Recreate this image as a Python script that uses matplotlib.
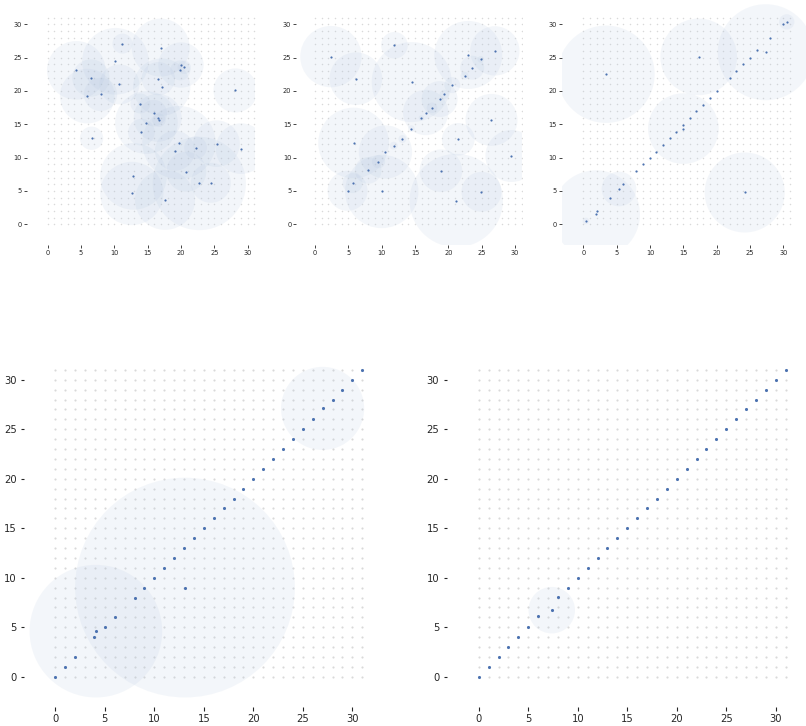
import numpy as np
import matplotlib
matplotlib.use("Agg")
import matplotlib.pyplot as plt
from matplotlib.patches import Circle

W, H = 806, 726

# centres and radii found at each stage
s1_x = [4.29, 6.48, 5.93, 7.92, 10.76, 10.16, 11.21, 6.58, 16.94, 16.59, 17.09, 13.90,
        15.89, 16.49, 16.69, 14.80, 14.05, 19.98, 19.88, 20.48, 28.15, 19.68, 19.08, 22.17,
        25.31, 28.99, 20.78, 22.72, 24.46, 12.85, 12.61, 17.59]
s1_y = [23.08, 21.93, 19.22, 19.47, 20.97, 24.44, 27.09, 12.90, 26.49, 21.83, 20.57, 18.11,
        16.66, 15.96, 15.60, 15.25, 13.80, 23.88, 23.08, 23.53, 20.07, 12.24, 11.04, 11.49,
        12.09, 11.34, 7.88, 6.12, 6.22, 7.18, 4.62, 3.66]
s1_r = [4.4, 2.8, 4.1, 2.5, 3.0, 5.0, 1.5, 1.75, 4.35, 2.5, 4.3, 1.5,
        2.0, 3.6, 1.0, 4.7, 2.0, 3.4, 1.5, 1.0, 3.3, 5.5, 3.0, 1.7,
        3.5, 3.8, 3.0, 7.0, 3.0, 5.0, 4.75, 4.5]

s2_x = [2.39, 6.13, 11.91, 14.50, 20.58, 22.98, 23.57, 22.42, 24.86, 26.96, 19.38, 18.68,
        17.54, 16.59, 15.94, 14.45, 26.46, 21.48, 13.10, 11.81, 10.56, 9.52, 7.97, 5.78,
        5.63, 4.88, 10.01, 18.88, 21.18, 24.96, 29.45]
s2_y = [25.14, 21.83, 26.84, 21.32, 20.87, 25.39, 23.48, 22.28, 24.74, 26.00, 19.47, 18.77,
        17.46, 16.76, 15.96, 14.35, 15.65, 12.74, 12.79, 11.79, 10.84, 9.38, 8.08, 12.19,
        6.17, 5.02, 4.92, 8.03, 3.56, 4.87, 10.24]
s2_r = [4.6, 3.95, 2.0, 6.0, 1.2, 5.1, 1.8, 0.6, 0.5, 3.7, 0.7, 2.7,
        0.8, 3.4, 0.4, 0.5, 3.9, 2.45, 0.6, 0.6, 4.0, 1.0, 2.0, 5.3,
        1.5, 3.0, 5.5, 3.2, 7.0, 3.0, 3.9]

s3_x = [0.4, 1.9, 2.0, 3.95, 5.35, 5.95, 7.95, 8.95, 9.95, 10.95, 11.95, 12.95, 13.95,
        14.95, 15.0, 15.95, 16.95, 18.0, 18.95, 20.0, 21.95, 22.95, 23.95, 25.0, 26.0,
        27.35, 28.0, 30.0, 30.5, 3.4, 17.3, 24.2]
s3_y = [0.5, 1.5, 2.0, 3.9, 5.3, 6.0, 8.0, 9.0, 10.0, 10.9, 11.9, 12.9, 13.9,
        14.95, 14.35, 15.95, 16.95, 17.95, 18.95, 19.97, 21.9, 23.0, 24.0, 25.0, 26.1,
        25.8, 27.9, 30.0, 30.35, 22.5, 25.1, 4.77]
s3_r = [0.5, 6.6, 0, 0, 2.6, 0, 0, 0, 0, 0, 0, 0, 0,
        0, 5.3, 0, 0, 0, 0, 0, 0, 0, 0, 0, 0,
        7.2, 0, 0, 1.15, 7.3, 5.75, 6.0]

s4_x = [0, 1, 2, 3.94, 4.1, 5, 6, 8, 9, 10, 11, 12, 13, 13.1, 14, 15, 16, 17, 18, 19,
        20, 21, 22, 23, 24, 25, 26, 27, 28, 29, 30, 31]
s4_y = [0, 1, 2, 4.0, 4.6, 5, 6, 8, 9, 10, 11, 12, 13, 9.0, 14, 15, 16, 17, 18, 19,
        20, 21, 22, 23, 24, 25, 26, 27.1, 28, 29, 30, 31]
s4_r = [0, 0, 0, 0, 6.7, 0, 0, 0, 0, 0, 0, 0, 0, 11.1, 0, 0, 0, 0, 0, 0,
        0, 0, 0, 0, 0, 0, 0, 4.2, 0, 0, 0, 0]

s5_x = [0, 1, 2, 3, 4, 5, 6, 7.38, 8, 9, 10, 11, 12, 13, 14, 15, 16, 17, 18, 19, 20,
        21, 22, 23, 24, 25, 26, 27, 28, 29, 30, 31]
s5_y = [0, 1, 2, 3, 4, 5, 6.15, 6.72, 8.07, 9, 10, 11, 12, 13, 14, 15, 16, 17, 18, 19, 20,
        21, 22, 23, 24, 25, 26, 27, 28, 29, 30, 31]
s5_r = [0, 0, 0, 0, 0, 0, 0, 2.35, 0, 0, 0, 0, 0, 0, 0, 0, 0, 0, 0, 0, 0,
        0, 0, 0, 0, 0, 0, 0, 0, 0, 0, 0]

ticks = [0, 5, 10, 15, 20, 25, 30]
grid = np.arange(32)
gx, gy = np.meshgrid(grid, grid)


def make_axes(fig, origin, scale, xlim, ylim):
    # origin is the pixel spot of data (0, 0), scale is pixels per unit
    ox, oy = origin
    left = ox + xlim[0] * scale
    bottom = H - (oy - ylim[0] * scale)
    ax = fig.add_axes([left / W, bottom / H,
                       (xlim[1] - xlim[0]) * scale / W,
                       (ylim[1] - ylim[0]) * scale / H])
    ax.set_xlim(*xlim)
    ax.set_ylim(*ylim)
    return ax


def draw(ax, xs, ys, rs, small):
    gs = 1.2 if small else 2.4
    ps = 2.5 if small else 5.0
    fs = 4.8 if small else 7.2
    ax.scatter(gx.ravel(), gy.ravel(), s=gs, c="#d9d9d9", linewidths=0, zorder=1)
    for x, y, r in zip(xs, ys, rs):
        if r > 0:
            ax.add_patch(Circle((x, y), r, facecolor="#b0c4de", alpha=0.14,
                                lw=0, zorder=2))
    ax.scatter(xs, ys, s=ps, c="#4c72b0", linewidths=0, zorder=3)
    ax.set_xticks(ticks)
    ax.set_yticks(ticks)
    for sp in ax.spines.values():
        sp.set_visible(False)
    if small:
        ax.tick_params(axis="both", length=2, width=0.6, colors="#262626",
                       labelsize=fs, pad=1.3)
    else:
        ax.tick_params(axis="x", length=3, width=0.8, colors="#262626",
                       labelsize=fs, pad=2.5)
        ax.tick_params(axis="y", length=2, width=0.8, colors="#262626",
                       labelsize=fs, pad=3.6)


fig = plt.figure(figsize=(W / 100, H / 100), dpi=100)

top = 6.67
ax1 = make_axes(fig, (47.7, 224.3), top, (-3.15, 31.1), (-3.15, 33.5))
draw(ax1, s1_x, s1_y, s1_r, True)
ax2 = make_axes(fig, (315.0, 224.3), top, (-2.85, 31.0), (-3.15, 33.5))
draw(ax2, s2_x, s2_y, s2_r, True)
ax3 = make_axes(fig, (583.3, 224.3), top, (-3.24, 34.6), (-3.15, 33.6))
draw(ax3, s3_x, s3_y, s3_r, True)

big = 9.9
ax4 = make_axes(fig, (55.3, 676.7), big, (-3.13, 32.5), (-3.03, 32.5))
draw(ax4, s4_x, s4_y, s4_r, False)
ax5 = make_axes(fig, (478.7, 676.7), big, (-3.2, 32.5), (-3.03, 32.5))
draw(ax5, s5_x, s5_y, s5_r, False)

fig.savefig("out.png", dpi=100)
